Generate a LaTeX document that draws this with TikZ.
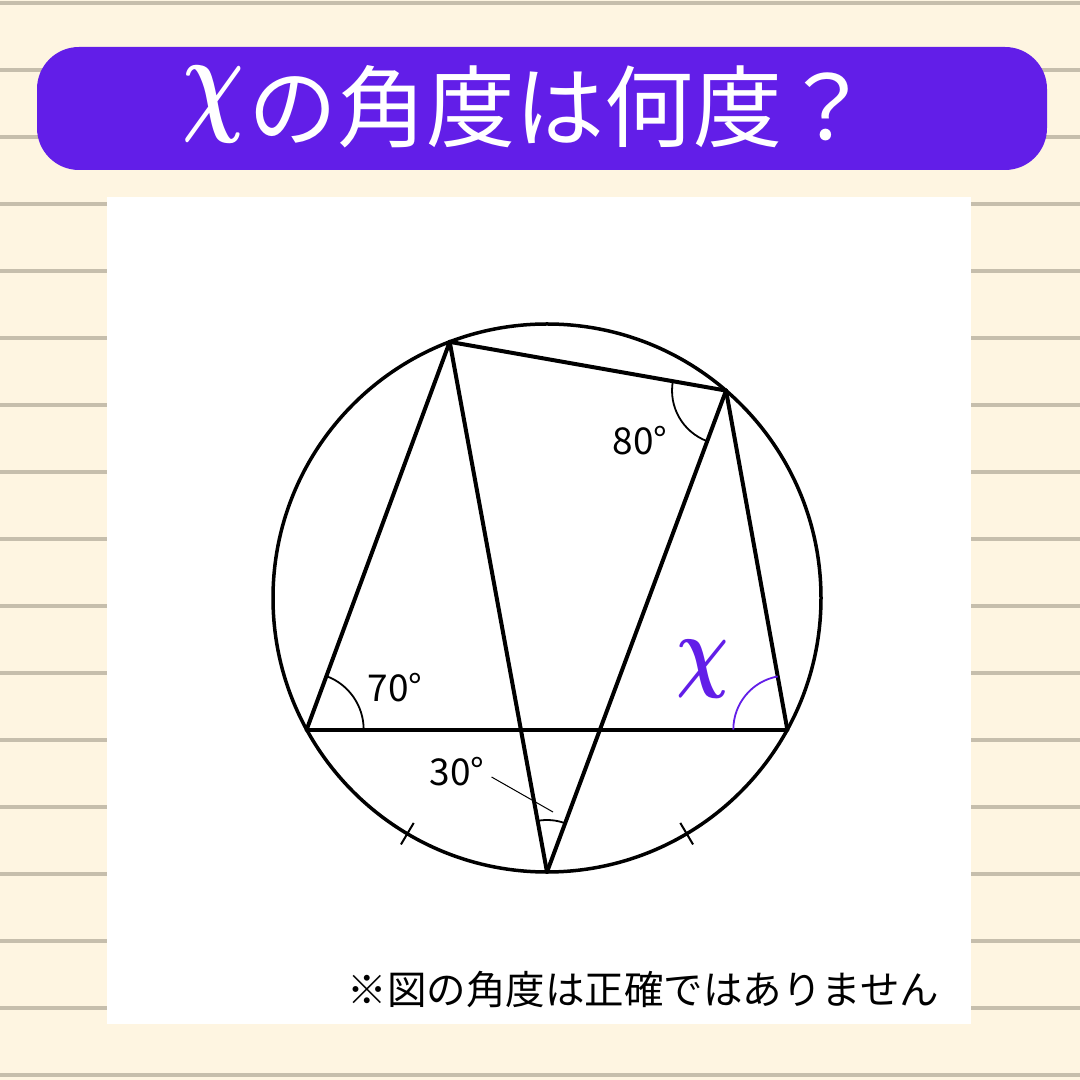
\documentclass[tikz,border=0pt]{standalone}
\usepackage{fontspec}
\newfontfamily\jpfont{Noto Sans CJK JP}
\usetikzlibrary{calc,angles}
\definecolor{cream}{RGB}{254,245,225}
\definecolor{rulecol}{RGB}{198,190,172}
\definecolor{qpurple}{RGB}{98,30,232}
\begin{document}
\begin{tikzpicture}[x=1pt,y=1pt,
  geo/.style={line width=4pt, line cap=round, line join=round},
  circ/.style={line width=3.5pt},
  ang/.style={draw, line width=1.8pt},
  deg/.style={font=\jpfont\fontsize{37}{37}\selectfont, inner sep=2pt},
  tick/.style={line width=2pt}]
\fill[cream] (0,0) rectangle (1080,1080);
\useasboundingbox (0,0) rectangle (1080,1080);
\foreach \k in {0,...,16}
  \fill[rulecol] (0,{1077-67*\k-2.3}) rectangle (1080,{1077-67*\k+2.3});
\fill[white] (107,56) rectangle (971,883);
% title
\node (bar) [fill=qpurple, rounded corners=42pt, minimum width=1010pt, minimum height=123pt, inner sep=0] at (542,971.5) {};
\node (tx) [text=white, inner sep=0] at (213,975) {\scalebox{8.6}[12]{\boldmath$\chi$}};
\node (tq) [anchor=west, text=white, font=\jpfont\fontsize{89}{89}\selectfont, inner sep=0] at (248,973) {の角度は何度？};
% geometry
\coordinate (O) at (547,482);
\path (O) ++(110.8:274) coordinate (A);
\path (O) ++(49.2:274) coordinate (B);
\path (O) ++(208.7:274) coordinate (C);
\path (O) ++(331.3:274) coordinate (D);
\path (O) ++(270:274) coordinate (E);
\draw[circ] (O) circle[radius=274];
\draw[geo] (C) -- (A);
\draw[geo] (A) -- (E);
\draw[geo] (A) -- (B);
\draw[geo] (B) -- (E);
\draw[geo] (B) -- (D);
\draw[geo] (C) -- (D);
% angles
\pic[ang, angle radius=57pt] {angle=D--C--A};
\pic[ang, angle radius=54pt] {angle=A--B--E};
\pic[ang, angle radius=52pt] {angle=B--E--A};
\pic[ang, draw=qpurple, angle radius=54pt] {angle=B--D--C};
% ticks
\draw[tick] ($(O)+(239.35:261.5)$) -- ($(O)+(239.35:286.5)$);
\draw[tick] ($(O)+(300.65:261.5)$) -- ($(O)+(300.65:286.5)$);
% labels
\node (l70) [deg] at (395,392) {70°};
\node (l80) [deg] at (640,639) {80°};
\node (l30) [deg] at (457,308) {30°};
\coordinate (p30) at (553,268);
\draw[line width=1pt] ([shift={(5,-5)}]l30.east) -- (p30);
\node (lx) [text=qpurple, inner sep=0] at (703,411) {\scalebox{7.3}[9.1]{\boldmath$\chi$}};
\node (note) [font=\jpfont\fontsize{39.5}{39.5}\selectfont, inner sep=0] at (643.5,90) {※図の角度は正確ではありません};
\end{tikzpicture}
\end{document}
